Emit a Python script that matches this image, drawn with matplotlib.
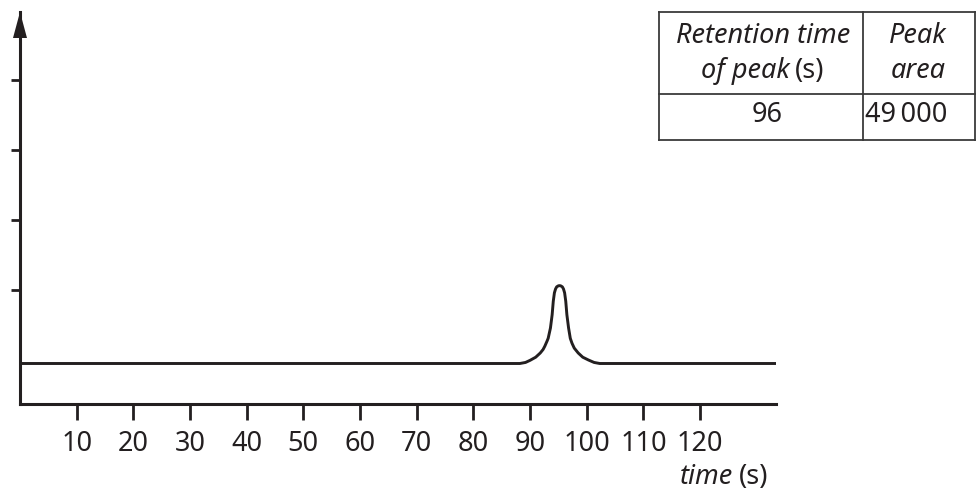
import matplotlib
matplotlib.use("Agg")
import matplotlib.pyplot as plt
from matplotlib.patches import Polygon
from matplotlib.lines import Line2D

# ---- data ----
time_s = [0, 88.2, 89.2, 90.0, 91.0, 91.8, 92.3, 92.6, 93.0, 93.2, 93.6, 93.9, 94.1, 94.3,
          94.5, 94.7, 95.0, 95.2, 95.4, 95.7, 95.9, 96.1, 96.3, 96.5, 96.8, 97.1,
          97.4, 97.8, 98.5, 99.3, 100.3, 101.3, 102.3, 133.4]
signal = [-0.05, -0.05, -0.035, -0.005, 0.04, 0.10, 0.15, 0.196, 0.27, 0.31, 0.457, 0.647,
          0.84, 0.96, 1.015, 1.045, 1.06, 1.062, 1.06, 1.045, 1.015, 0.96, 0.84,
          0.647, 0.457, 0.31, 0.24, 0.17, 0.10, 0.04, 0.00, -0.035, -0.05, -0.05]
x_ticks = [10, 20, 30, 40, 50, 60, 70, 80, 90, 100, 110, 120]
y_ticks = [1, 2, 3, 4]
table_header = [["Retention time", "of peak", "(s)"], ["Peak", "area"]]
table_row = ["96", "49\u2009000"]

INK = "#231f20"
W, H = 976, 491
plt.rcParams['font.family'] = ['Noto Sans', 'DejaVu Sans']

fig = plt.figure(figsize=(W / 100, H / 100), dpi=100)

def fx(px):
    return px / W

def fy(py):
    return 1 - py / H

ax_left, ax_right, ax_bottom, ax_top = 20, 776, 404, 12
ax = fig.add_axes([fx(ax_left), fy(ax_bottom), fx(ax_right - ax_left), (ax_bottom - ax_top) / H])

ax.plot(time_s, signal, color=INK, lw=2.1, solid_capstyle='butt', solid_joinstyle='round')

ax.set_xlim(0, 133.4)
ax.set_ylim(-0.6286, -0.6286 + 392 / 70)

for s in ['top', 'right']:
    ax.spines[s].set_visible(False)
for s in ['left', 'bottom']:
    ax.spines[s].set_linewidth(2.2)
    ax.spines[s].set_color(INK)

FS = 19.5
FT = 19.5
ax.set_xticks(x_ticks)
ax.set_xticklabels([str(v) for v in x_ticks], fontsize=FS, color=INK)
ax.set_yticks(y_ticks)
ax.set_yticklabels([])
ax.tick_params(axis='x', direction='out', length=11.5, width=2.0, color=INK, pad=7)
ax.tick_params(axis='y', direction='out', length=6.5, width=2.0, color=INK)

# arrow head on y axis
ah = 26 / (ax_bottom - ax_top)
aw = 7 / (ax_right - ax_left)
ax.add_patch(Polygon([(0, 1), (-aw, 1 - ah), (aw, 1 - ah)], closed=True,
                     transform=ax.transAxes, clip_on=False, color=INK, lw=0))

# axis label "time (s)"
fig.text(fx(733), fy(477), "time", ha='right', va='center', fontsize=FT,
         style='italic', color=INK)
fig.text(fx(739), fy(477), "(s)", ha='left', va='center', fontsize=FS, color=INK)

# ---- table ----
tl, tm, tr = 659, 863, 975
tt, tmid, tb = 12, 94, 140
lw_t = 1.3
for (x0, y0, x1, y1) in [(tl, tt, tr, tt), (tl, tmid, tr, tmid), (tl, tb, tr, tb),
                         (tl, tt, tl, tb), (tm, tt, tm, tb), (tr, tt, tr, tb)]:
    fig.add_artist(Line2D([fx(x0), fx(x1)], [fy(y0), fy(y1)], color="#3a3a3a", lw=lw_t))

c1 = (tl + tm) / 2 + 2
c2 = 918
fig.text(fx(c1), fy(36), table_header[0][0], ha='center', va='center', fontsize=FT,
         style='italic', color=INK)
fig.text(fx(790), fy(71), table_header[0][1], ha='right', va='center', fontsize=FT,
         style='italic', color=INK)
fig.text(fx(795), fy(71), table_header[0][2], ha='left', va='center', fontsize=FS,
         color=INK)
fig.text(fx(c2), fy(36), table_header[1][0], ha='center', va='center', fontsize=FT,
         style='italic', color=INK)
fig.text(fx(c2), fy(71), table_header[1][1], ha='center', va='center', fontsize=FT,
         style='italic', color=INK)
fig.text(fx(767), fy(115), table_row[0], ha='center', va='center', fontsize=FS, color=INK)
fig.text(fx(865), fy(115), table_row[1], ha='left', va='center', fontsize=FS, color=INK)

fig.savefig("out.png", dpi=100)
